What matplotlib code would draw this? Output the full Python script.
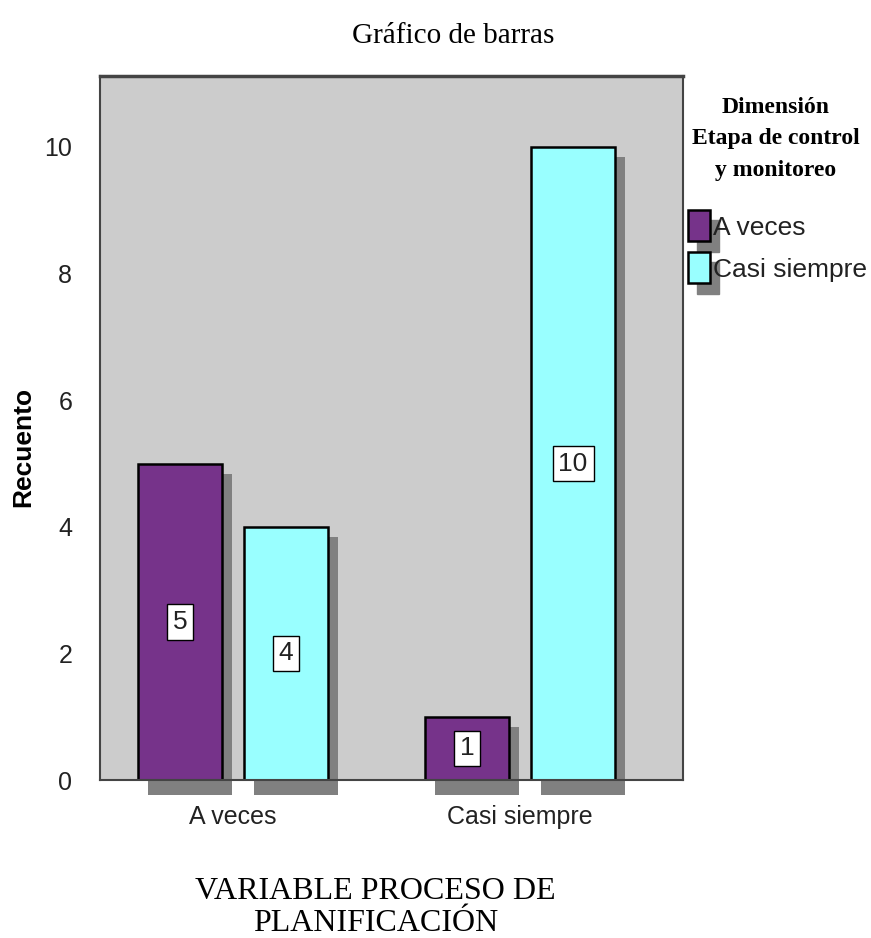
import numpy as np
import matplotlib.pyplot as plt
from matplotlib.patches import Rectangle

# data
categories = ["A veces", "Casi siempre"]
series = ["A veces", "Casi siempre"]
a_veces = [5, 1]
casi_siempre = [4, 10]
colors = ["#76338A", "#99FFFF"]

sans = ["Liberation Sans", "DejaVu Sans"]
serif = ["Liberation Serif", "DejaVu Serif"]

fig = plt.figure(figsize=(8.71, 9.38), dpi=100)
ax = fig.add_axes([0.1148, 0.1684, 0.6694, 0.7505])
ax.set_facecolor("#CCCCCC")

x = np.arange(len(categories))
w = 0.293
off = 0.185
sdx, sdy = 0.035, 0.165  # shadow offset in data units

for vals, col, sgn in [(a_veces, colors[0], -1), (casi_siempre, colors[1], 1)]:
    xs = x + sgn * off
    # shadows
    ax.bar(xs + sdx, np.array(vals) - sdy + 0.24, w, bottom=-0.24,
           color="#808080", zorder=1, clip_on=False)
    ax.bar(xs, vals, w, color=col, edgecolor="black", linewidth=1.8, zorder=2)
    for xi, v in zip(xs, vals):
        ax.text(xi, v / 2, str(v), ha="center", va="center", fontsize=19,
                family=sans, color="#222222", zorder=3,
                bbox=dict(boxstyle="square,pad=0.22", fc="white", ec="black", lw=1))

ax.set_xlim(-0.463, 1.568)
ax.set_ylim(0, 11.12)
ax.set_yticks([0, 2, 4, 6, 8, 10])
ax.set_xticks(x)
ax.set_xticklabels(categories)
ax.tick_params(axis="both", length=0, labelsize=18)
ax.tick_params(axis="y", pad=20)
ax.tick_params(axis="x", pad=18)
for lab in ax.get_xticklabels() + ax.get_yticklabels():
    lab.set_family(sans)
    lab.set_color("#222222")
for s in ax.spines.values():
    s.set_color("#444444")
    s.set_linewidth(1.5)
ax.spines["top"].set_linewidth(2.5)

ax.set_ylabel("Recuento", fontsize=19, fontweight="bold", family=sans)
ax.yaxis.set_label_coords(-0.111, 0.473)
ax.set_xlabel("VARIABLE PROCESO DE\nPLANIFICACIÓN", fontsize=23, family=serif,
              linespacing=1.12)
ax.xaxis.set_label_coords(0.473, -0.138)
fig.text(0.520, 0.962, "Gráfico de barras", ha="center", va="center",
         fontsize=21, family=serif)

# legend
fig.text(0.891, 0.852, "Dimensión\nEtapa de control\ny monitoreo", ha="center",
         va="center", fontsize=17, fontweight="bold", family=serif, linespacing=1.65)
W, H = 871, 938
for i, (name, col) in enumerate(zip(series, colors)):
    top = 210 + i * 42
    fig.add_artist(Rectangle((697 / W, 1 - (top + 42) / H), 22 / W, 32 / H,
                             transform=fig.transFigure, color="#808080"))
    fig.add_artist(Rectangle((688 / W, 1 - (top + 31) / H), 22 / W, 31 / H,
                             transform=fig.transFigure, fc=col, ec="black", lw=1.8))
    fig.text(713 / W, 1 - (top + 18) / H, name, ha="left", va="center",
             fontsize=19, family=sans, color="#222222")

fig.savefig("out.png", dpi=100, facecolor="white")
